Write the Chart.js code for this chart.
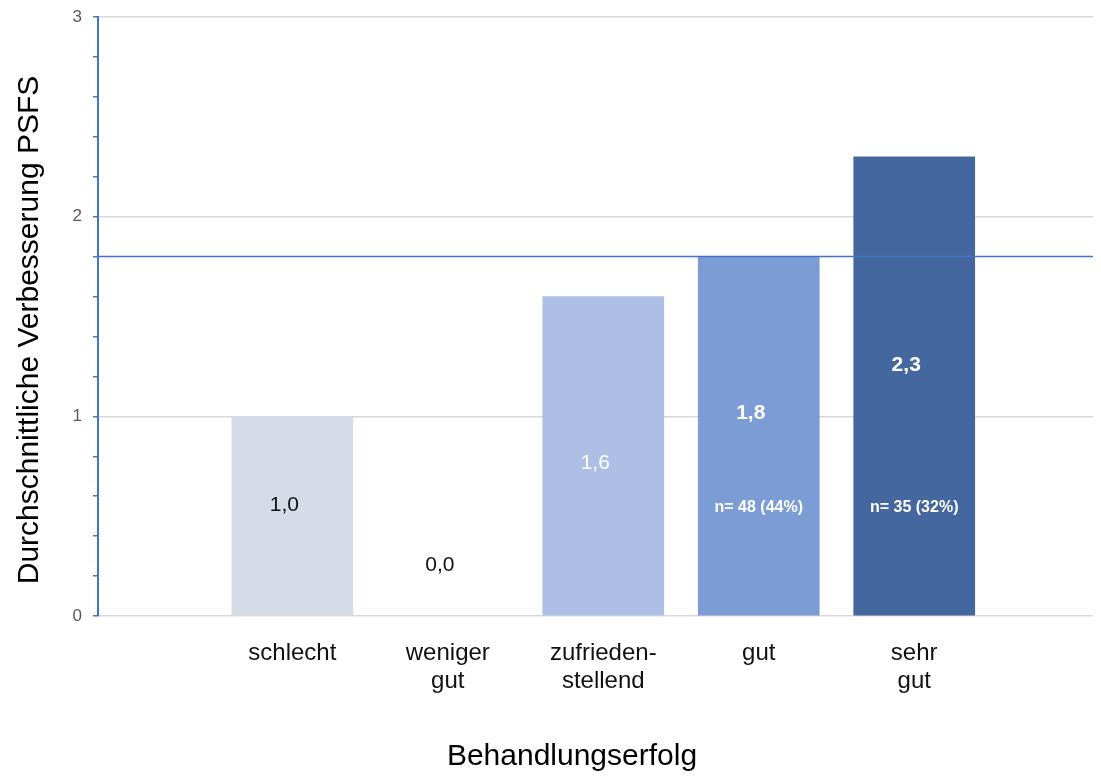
<!DOCTYPE html>
<html lang="de">
<head>
<meta charset="utf-8">
<title>Behandlungserfolg und Verbesserung PSFS</title>
<script src="https://cdn.jsdelivr.net/npm/chart.js@4.4.1/dist/chart.umd.min.js"></script>
<style>
  html, body { margin: 0; padding: 0; background: #ffffff; }
  canvas { display: block; }
</style>
</head>
<body>
<canvas id="chart" width="1101" height="776"></canvas>
<script>
// Kategorien des Behandlungserfolgs (mehrzeilige Beschriftungen als Arrays)
const categories = ['schlecht', ['weniger', 'gut'], ['zufrieden-', 'stellend'], 'gut', ['sehr', 'gut']];
// Durchschnittliche Verbesserung PSFS je Kategorie
const improvement = [1.0, 0.0, 1.6, 1.8, 2.3];
// Fallzahlen je Kategorie (nur dort angegeben, wo bekannt)
const sampleNotes = [null, null, null, 'n= 48 (44%)', 'n= 35 (32%)'];
// Gesamtdurchschnitt als Referenzlinie
const referenceValue = 1.8;
// Beschriftungen der y-Achse
const yTickValues = [0, 1, 2, 3];

// Darstellung
const barColors = ['#D5DCE7', '#D5DCE7', '#AEBFE6', '#7B9CD4', '#44679F'];
const valueLabelColors = ['#111111', '#111111', '#ffffff', '#ffffff', '#ffffff'];
const valueLabelWeights = ['normal', 'normal', 'normal', 'bold', 'bold'];
const valueLabelLevels = [0.555, 0.255, 0.765, 1.015, 1.255];
const noteLevel = 0.545;
const axisBlue = '#4472C4';
const FONT = '"Liberation Sans", Arial, Helvetica, sans-serif';

const isWhole = v => Math.abs(v - Math.round(v)) < 1e-6;
const fmt = v => v.toFixed(1).replace('.', ',');

const overlayPlugin = {
  id: 'overlay',
  afterDatasetsDraw(chart) {
    const { ctx, chartArea, scales } = chart;
    const y = scales.y;
    const meta = chart.getDatasetMeta(0);

    // Referenzlinie (Gesamtdurchschnitt)
    const ry = y.getPixelForValue(referenceValue);
    ctx.save();
    ctx.strokeStyle = axisBlue;
    ctx.lineWidth = 1.5;
    ctx.beginPath();
    ctx.moveTo(chartArea.left, ry);
    ctx.lineTo(chartArea.right, ry);
    ctx.stroke();

    // Wertbeschriftungen
    ctx.textAlign = 'center';
    ctx.textBaseline = 'middle';
    improvement.forEach((v, i) => {
      const bx = meta.data[i].x;
      ctx.fillStyle = valueLabelColors[i];
      ctx.font = valueLabelWeights[i] + ' 21px ' + FONT;
      ctx.fillText(fmt(v), bx - 8, y.getPixelForValue(valueLabelLevels[i]));
      if (sampleNotes[i]) {
        ctx.font = 'bold 16px ' + FONT;
        ctx.fillStyle = '#ffffff';
        ctx.fillText(sampleNotes[i], bx, y.getPixelForValue(noteLevel));
      }
    });

    // Achsentitel
    ctx.fillStyle = '#000000';
    ctx.font = '30px ' + FONT;
    ctx.fillText('Behandlungserfolg', 572, 757);
    ctx.translate(30, 330);
    ctx.rotate(-Math.PI / 2);
    ctx.fillText('Durchschnittliche Verbesserung PSFS', 0, 0);
    ctx.restore();
  }
};

new Chart(document.getElementById('chart'), {
  type: 'bar',
  data: {
    datasets: [{
      data: improvement.map((v, i) => ({ x: i + 1, y: v })),
      backgroundColor: barColors,
      borderWidth: 0,
      barThickness: 121
    }]
  },
  options: {
    responsive: false,
    animation: false,
    layout: { padding: { left: 0, right: 8, top: 17, bottom: 0 } },
    plugins: {
      legend: { display: false },
      tooltip: { enabled: false }
    },
    scales: {
      x: {
        type: 'linear',
        offset: false,
        bounds: 'data',
        min: -0.25,
        max: 6.15,
        afterBuildTicks(scale) {
          scale.ticks = categories.map((c, i) => ({ value: i + 1 }));
        },
        afterFit(scale) {
          scale.height = 160;
          scale.paddingLeft = 0;
          scale.paddingRight = 0;
        },
        grid: { display: false, offset: false },
        border: { display: false },
        ticks: {
          autoSkip: false,
          maxRotation: 0,
          padding: 15,
          color: '#111111',
          font: { family: FONT, size: 24, lineHeight: 1.17 },
          callback: v => categories[Math.round(v) - 1]
        }
      },
      y: {
        min: 0,
        max: 3,
        afterFit(scale) {
          scale.width = 98;
          scale.paddingTop = 0;
          scale.paddingBottom = 0;
        },
        ticks: {
          stepSize: 0.2,
          autoSkip: false,
          padding: 11,
          color: '#595959',
          font: { family: FONT, size: 17 },
          callback: v => (isWhole(v) && yTickValues.includes(Math.round(v))) ? String(Math.round(v)) : ''
        },
        grid: {
          lineWidth: 1.5,
          color: c => isWhole(c.tick.value) ? '#d9d9d9' : 'rgba(0,0,0,0)',
          tickColor: axisBlue,
          tickLength: 5,
          tickWidth: 1.5
        },
        border: { color: axisBlue, width: 2 }
      }
    }
  },
  plugins: [overlayPlugin]
});
</script>
</body>
</html>
